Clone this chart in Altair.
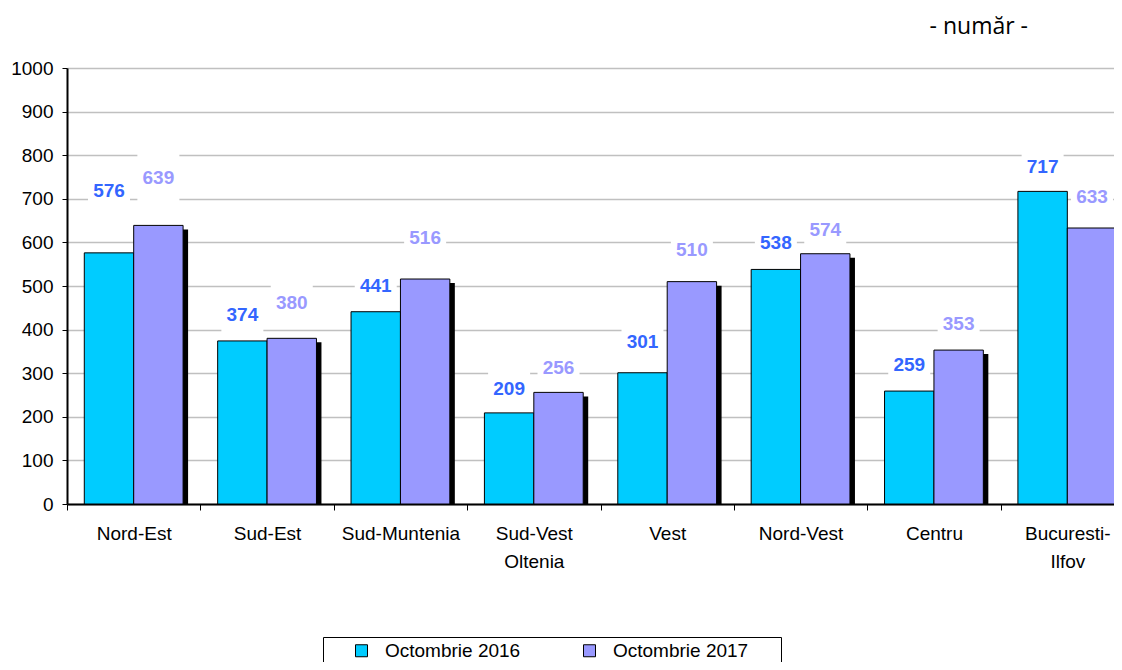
import altair as alt
import pandas as pd

regions = ["Nord-Est", "Sud-Est", "Sud-Muntenia", "Sud-Vest\nOltenia", "Vest",
           "Nord-Vest", "Centru", "Bucuresti-\nIlfov"]
series = ["Octombrie 2016", "Octombrie 2017"]
values_2016 = [576, 374, 441, 209, 301, 538, 259, 717]
values_2017 = [639, 380, 516, 256, 510, 574, 353, 633]
# vertical anchor (in data units) of each value label
label_at_2016 = [718, 433, 500, 264, 372, 599, 319, 773]
label_at_2017 = [748, 461, 610, 312, 583, 628, 413, 704]

bar_colors = ["#00CCFF", "#9999FF"]
label_colors = ["#3366FF", "#9999FF"]
FONT = "Liberation Sans"
STEP = 1067 / len(regions)

rows = []
for i, r in enumerate(regions):
    rows.append({"region": r, "series": series[0], "value": values_2016[i], "label_at": label_at_2016[i]})
    rows.append({"region": r, "series": series[1], "value": values_2017[i], "label_at": label_at_2017[i]})
df = pd.DataFrame(rows)

x_enc = alt.X(
    "region:N", sort=regions,
    scale=alt.Scale(range=[0, 1067], paddingInner=0, paddingOuter=0),
    axis=alt.Axis(
        title=None, labelAngle=0, labelFontSize=19, labelFont=FONT, labelColor="black",
        domainColor="black", domainWidth=2, tickColor="black", tickSize=6, tickWidth=1,
        tickBand="extent", labelPadding=14, labelLineHeight=28, labelBaseline="top",
        labelExpr="split(datum.label, '\\n')", grid=False,
    ),
)
xoff_main = alt.XOffset("series:N", sort=series,
                        scale=alt.Scale(type="band", domain=series, range=[0, STEP],
                                        paddingOuter=0.35, paddingInner=0))
xoff_shadow = alt.XOffset("series:N", sort=series,
                          scale=alt.Scale(type="band", domain=series, range=[5, STEP + 5],
                                          paddingOuter=0.35, paddingInner=0))
y_scale = alt.Scale(domain=[0, 1000], nice=False)
y_axis = alt.Axis(
    title=None, values=list(range(0, 1001, 100)), format="d", labelFontSize=19,
    labelFont=FONT, labelColor="black", domainColor="black", domainWidth=2,
    tickColor="black", tickSize=5, labelPadding=9, grid=True, gridColor="#C0C0C0",
    gridWidth=1.5,
)

boxes = alt.Chart(df).mark_point(
    shape="M-0.875,-1L0.875,-1L0.875,1L-0.875,1Z", filled=True, fill="white",
    opacity=1, strokeWidth=0, size=2304,
).encode(x=x_enc, xOffset=xoff_main,
         y=alt.Y("label_at:Q", scale=y_scale, axis=y_axis))

shadow = alt.Chart(df).transform_filter(alt.datum.series == series[1]).mark_bar(
    color="black", yOffset=4, clip=True
).encode(x=x_enc, xOffset=xoff_shadow,
         y=alt.Y("value:Q", scale=y_scale, axis=y_axis, stack=None))

bars = alt.Chart(df).mark_bar(stroke="black", strokeWidth=1).encode(
    x=x_enc, xOffset=xoff_main,
    y=alt.Y("value:Q", scale=y_scale, axis=y_axis, stack=None),
    color=alt.Color(
        "series:N", sort=series,
        scale=alt.Scale(domain=series, range=bar_colors),
        legend=alt.Legend(
            title=" ", titleOrient="left", titlePadding=25, titleFontSize=10,
            orient="none", legendX=256, legendY=569, direction="horizontal",
            strokeColor="black", fillColor="white", padding=4,
            symbolType="square", symbolSize=144, symbolStrokeColor="black",
            symbolStrokeWidth=1, labelFontSize=19, labelFont=FONT, labelColor="black",
            labelOffset=14, columnPadding=59, labelLimit=220,
            labelExpr="datum.label == 'Octombrie 2017' ? datum.label + '\u2800\u2800' : datum.label",
        ),
    ),
)

labels = alt.Chart(df).mark_text(fontWeight="bold", fontSize=19, font=FONT).encode(
    x=x_enc, xOffset=xoff_main,
    y=alt.Y("label_at:Q", scale=y_scale, axis=y_axis),
    text="value:Q",
    color=alt.Color("series:N", scale=alt.Scale(domain=series, range=label_colors), legend=None),
)

chart = (
    alt.layer(boxes, shadow, bars, labels)
    .resolve_scale(color="independent", xOffset="independent")
    .properties(
        width=1047, height=436,
        autosize=alt.AutoSizeParams(type="none"),
        padding={"left": 59, "top": 60, "right": 0, "bottom": 158},
        title=alt.TitleParams("- număr -", anchor="end", frame="group", fontSize=23,
                              fontWeight="normal", font="Open Sans", color="black",
                              dx=-86, offset=20),
    )
    .configure_view(stroke=None)
    .configure_legend(strokeWidth=1)
    .configure(background="white")
)

chart.save("out.html", embed_options={"renderer": "svg", "actions": False})
